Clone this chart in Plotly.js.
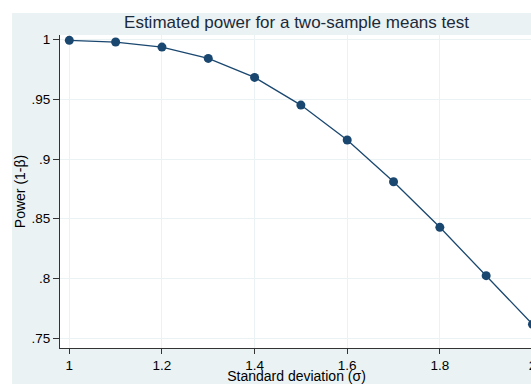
<!DOCTYPE html>
<html>
<head>
<meta charset="utf-8">
<script src="https://cdn.plot.ly/plotly-3.0.1.min.js"></script>
<style>
html,body{margin:0;padding:0;background:#fff;overflow:hidden;width:531px;height:384px;}
#chart{position:absolute;left:12px;top:13px;width:560px;height:371px;}
</style>
</head>
<body>
<div id="chart"></div>
<script>
var sigma = [1, 1.1, 1.2, 1.3, 1.4, 1.5, 1.6, 1.7, 1.8, 1.9, 2];
var power = [0.9994, 0.9980, 0.9938, 0.9843, 0.9684, 0.9452, 0.9159, 0.8810, 0.8428, 0.8023, 0.7616];
var yTickVals = [0.75, 0.8, 0.85, 0.9, 0.95, 1];
var yTickText = ['.75', '.8', '.85', '.9', '.95', '1'];
var xTickVals = [1, 1.2, 1.4, 1.6, 1.8, 2];
var xTickText = ['1', '1.2', '1.4', '1.6', '1.8', '2'];

var navy = '#1a476f';
var bg = '#eaf2f3';
var font = 'Liberation Sans, Arial, sans-serif';

var trace = {
  x: sigma, y: power, type: 'scatter', mode: 'lines+markers',
  line: {color: navy, width: 1.3},
  marker: {color: navy, size: 9},
  hoverinfo: 'none', showlegend: false
};

var layout = {
  width: 560, height: 371,
  paper_bgcolor: bg, plot_bgcolor: '#ffffff',
  margin: {l: 48, r: 39, t: 22, b: 36, pad: 0},
  font: {family: font, size: 13, color: '#000'},
  title: {text: 'Estimated power for a two-sample means test',
          font: {family: font, size: 17, color: '#1c2a3a'},
          x: 0.5, xref: 'paper', y: 0.976, yref: 'container', yanchor: 'middle'},
  xaxis: {
    range: [0.9799, 2.0011], tickvals: xTickVals, ticktext: xTickText,
    showgrid: true, gridcolor: bg, gridwidth: 1, zeroline: false,
    showline: true, linecolor: '#333', linewidth: 1,
    ticks: 'outside', ticklen: 5, tickcolor: '#333', tickwidth: 1,
    tickfont: {family: font, size: 13.5, color: '#000'},
    title: {text: 'Standard deviation (σ)', font: {family: font, size: 14, color: '#000'}, standoff: 3}
  },
  yaxis: {
    range: [0.7417, 1.0039], tickvals: yTickVals, ticktext: yTickText,
    showgrid: true, gridcolor: bg, gridwidth: 1, zeroline: false,
    showline: true, linecolor: '#333', linewidth: 1,
    ticks: 'outside', ticklen: 6, tickcolor: '#333', tickwidth: 1,
    tickfont: {family: font, size: 13.5, color: '#000'},
    title: {text: 'Power (1-β)', font: {family: font, size: 14, color: '#000'}, standoff: 4}
  }
};

Plotly.newPlot('chart', [trace], layout, {staticPlot: true, displayModeBar: false});
</script>
</body>
</html>
